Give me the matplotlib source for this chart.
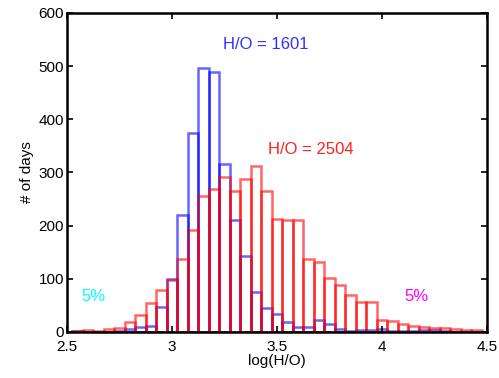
import numpy as np
import matplotlib
matplotlib.use("Agg")
import matplotlib.pyplot as plt

plt.rcParams['font.family'] = ['Liberation Sans', 'DejaVu Sans']

# bin centres of log10(H/O), step 0.05
centres = np.round(np.arange(2.55, 4.451, 0.05), 2)

# number of days per bin, H/O = 1601 case
days_1601 = [1, 0, 0, 0, 1, 6, 9, 12, 47, 100,
             219, 374, 497, 489, 316, 210, 142, 75, 44, 34,
             19, 10, 10, 22, 15, 6, 1, 4, 4, 6,
             2, 2, 1, 3, 3, 1, 0, 0, 0]

# number of days per bin, H/O = 2504 case
days_2504 = [2, 3, 2, 5, 8, 19, 31, 55, 78, 97,
             137, 191, 256, 269, 292, 265, 288, 312, 265, 212,
             210, 210, 137, 131, 101, 89, 70, 56, 56, 23,
             20, 14, 11, 9, 7, 7, 6, 3, 4]

xticks = [2.5, 3, 3.5, 4, 4.5]
yticks = [0, 100, 200, 300, 400, 500, 600]

fig = plt.figure(figsize=(4.99, 3.78), dpi=100)
ax = fig.add_axes([0.134, 0.122, 0.842, 0.844])

w = 0.05
ax.bar(centres, days_1601, width=w, fill=False,
       edgecolor=(0, 0, 1, 0.6), linewidth=1.8)
ax.bar(centres, days_2504, width=w, fill=False,
       edgecolor=(1, 0, 0, 0.6), linewidth=1.8)

ax.text(3.445, 540, 'H/O = 1601', color='#3030ff', ha='center', va='center', fontsize=12)
ax.text(3.66, 343, 'H/O = 2504', color='#ff2020', ha='center', va='center', fontsize=12)
ax.text(2.625, 67, '5%', color='cyan', ha='center', va='center', fontsize=12)
ax.text(4.165, 67, '5%', color='magenta', ha='center', va='center', fontsize=12)

ax.set_xlim(2.5, 4.5)
ax.set_ylim(0, 600)
ax.set_xticks(xticks)
ax.set_xticklabels(['2.5', '3', '3.5', '4', '4.5'])
ax.set_yticks(yticks)
ax.tick_params(direction='in', top=True, right=True, length=4, width=1.2,
               labelsize=11)
ax.tick_params(axis='x', pad=6)
ax.tick_params(axis='y', pad=2)
for s in ax.spines.values():
    s.set_linewidth(1.8)
ax.set_xlabel('log(H/O)', fontsize=11, labelpad=0)
ax.set_ylabel('# of days', fontsize=11, labelpad=3)

fig.savefig('out.png', dpi=100)
